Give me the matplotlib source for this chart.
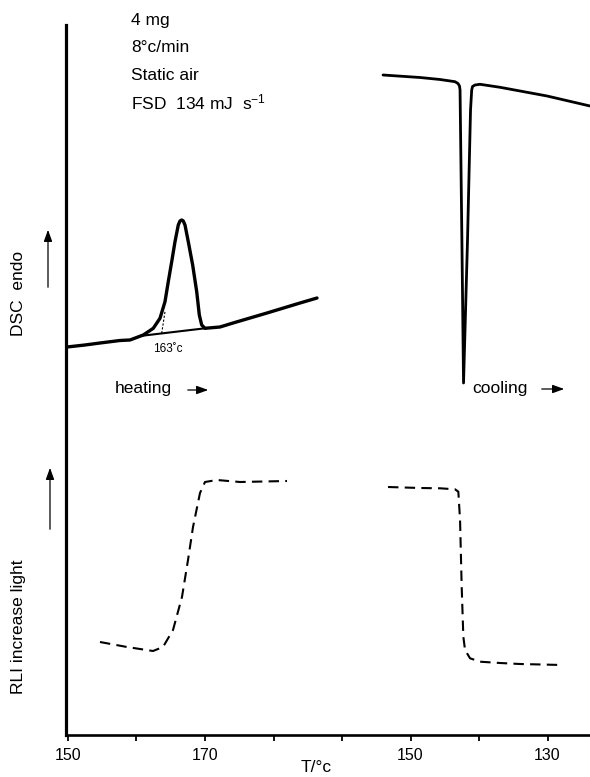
import numpy as np
import matplotlib
matplotlib.use("Agg")
import matplotlib.pyplot as plt
from matplotlib.patches import FancyArrowPatch

plt.rcParams["font.family"] = ["Liberation Sans", "DejaVu Sans"]
plt.rcParams["mathtext.default"] = "regular"

# DSC heating trace (T in degC, signal in arbitrary units)
dsc_heat_T = [149.85, 152.48, 154.67, 157.59, 159.05, 160.99, 162.45, 163.43, 164.16,
              164.64, 165.14, 165.62, 166.10, 166.35, 166.60, 166.83, 167.08, 167.56,
              168.20, 168.79, 169.17, 169.52, 170.00, 172.19, 174.09, 179.05, 183.87, 186.35]
dsc_heat_sig = [38.8, 39.0, 39.2, 39.45, 39.5, 40.0, 40.67, 41.67, 43.33,
                45.33, 47.33, 49.33, 51.0, 51.4, 51.5, 51.4, 51.0, 49.33,
                47.0, 44.33, 42.0, 41.0, 40.67, 40.8, 41.2, 42.2, 43.2, 43.7]
# interpolated baseline under the melting peak, and onset tangent
dsc_base_T = [160.51, 170.0]
dsc_base_sig = [39.9, 40.67]
onset_T = [163.68, 164.16]
onset_sig = [40.17, 42.33]

# DSC cooling trace (T in degC, runs downward)
dsc_cool_T = [154.01, 148.61, 145.69, 143.50, 143.07, 142.85, 142.77, 142.50, 142.26,
              141.68, 141.24, 141.07, 140.95, 140.58, 139.85, 136.93, 130.07, 123.80]
dsc_cool_sig = [66.0, 65.75, 65.55, 65.33, 65.15, 64.9, 64.5, 49.5, 35.2,
                49.5, 62.5, 64.5, 64.85, 65.0, 65.07, 64.77, 63.9, 62.9]

# reflected light intensity, heating and cooling
rli_heat_T = [154.67, 158.61, 162.41, 163.87, 165.33, 166.64, 167.52, 168.25,
              169.27, 170.00, 171.75, 175.11, 181.97]
rli_heat_sig = [9.3, 8.8, 8.4, 8.8, 10.5, 13.8, 17.5, 20.8, 24.2, 25.3, 25.5, 25.3, 25.4]
rli_cool_T = [153.28, 148.61, 145.69, 143.50, 143.02, 142.77, 142.53, 142.29,
              142.04, 141.31, 139.85, 136.93, 134.01, 127.88]
rli_cool_sig = [24.8, 24.7, 24.67, 24.57, 24.33, 21.5, 14.83, 9.83,
                8.5, 7.67, 7.33, 7.2, 7.1, 7.0]

tick_pos = [150, 160, 170, 180, 190, 200, 210, 220]
tick_labels = ["150", "", "170", "", "", "150", "", "130"]


def cool_pos(T):
    # cooling run drawn on the same axis, reversed: 160 C cooling sits at 190
    return 350 - np.asarray(T)


W, H = 590, 777
fig = plt.figure(figsize=(W / 100, H / 100), dpi=100)
ax = fig.add_axes([66 / W, 42 / H, (W - 66) / W, 710 / H])

ax.plot(dsc_heat_T, dsc_heat_sig, color="black", lw=2.4,
        solid_joinstyle="round", solid_capstyle="round")
ax.plot(dsc_base_T, dsc_base_sig, color="black", lw=1.5)
ax.plot(onset_T, onset_sig, color="black", lw=0.8, ls=(0, (2, 1.5)))
ax.plot(cool_pos(dsc_cool_T), dsc_cool_sig, color="black", lw=2.0,
        solid_joinstyle="round", solid_capstyle="round")
ax.plot(rli_heat_T, rli_heat_sig, color="black", lw=1.5, ls=(0, (5, 3)))
ax.plot(cool_pos(rli_cool_T), rli_cool_sig, color="black", lw=1.5, ls=(0, (5, 3)))

ax.set_xlim(149.71, 226.2)
ax.set_ylim(0, 71)
ax.set_xticks(tick_pos)
ax.set_xticklabels(tick_labels, fontsize=11.5)
ax.set_yticks([])
ax.tick_params(axis="x", direction="out", length=4, width=1.3, pad=5)
for s in ["top", "right"]:
    ax.spines[s].set_visible(False)
ax.spines["left"].set_linewidth(2.3)
ax.spines["bottom"].set_linewidth(1.9)

ax.text(164.6, 38.6, "163˚c", fontsize=8.5, ha="center", va="center")


def fx(px):
    return px / W


def fy(py):
    return 1 - py / H


fs = 12.5
for txt, py in [("4 mg", 21), ("8°c/min", 47), ("Static air", 75),
                ("FSD  134 mJ  s$^{-1}$", 102)]:
    fig.text(fx(131), fy(py), txt, fontsize=fs, va="center", ha="left")

fig.text(fx(115), fy(389), "heating", fontsize=fs, va="center")
fig.text(fx(472), fy(388), "cooling", fontsize=fs, va="center")
fig.text(fx(19), fy(293), "DSC  endo", fontsize=fs, rotation=90, va="center", ha="center")
fig.text(fx(19), fy(627), "RLI increase light", fontsize=fs, rotation=90, va="center", ha="center")
fig.text(fx(316), fy(767), "T/°c", fontsize=fs, va="center", ha="center")

arrow = dict(arrowstyle="-|>,head_length=0.5,head_width=0.18", color="black", lw=0.9)
for (x0, y0), (x1, y1) in [((185, 390), (211, 390)), ((539, 389), (567, 389)),
                           ((48, 290), (48, 227)), ((50, 532), (50, 465))]:
    fig.add_artist(FancyArrowPatch((fx(x0), fy(y0)), (fx(x1), fy(y1)),
                                   transform=fig.transFigure, mutation_scale=14, **arrow))

fig.savefig("out.png", dpi=100)
